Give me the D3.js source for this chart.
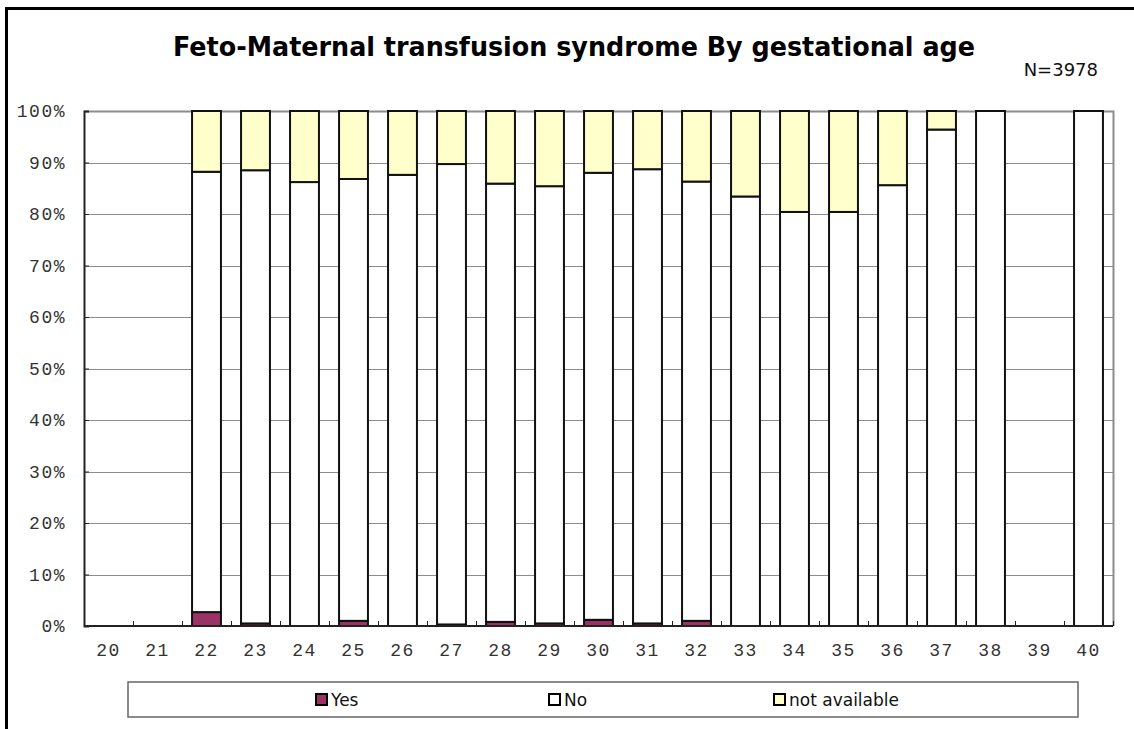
<!DOCTYPE html>
<html>
<head>
<meta charset="utf-8">
<script src="https://cdn.jsdelivr.net/npm/d3@7"></script>
<style>
  body { margin: 0; background: #fff; overflow: hidden; }
  svg { display: block; overflow: hidden; }
  .yLabels, .xLabels { font-family: "Liberation Mono", "Courier New", monospace; fill: #333; }
  .chartTitle { font-family: "DejaVu Sans", Tahoma, sans-serif; font-weight: bold; }
  .nKey, .legendText { font-family: "DejaVu Sans", Tahoma, sans-serif; fill: #111; }
</style>
</head>
<body>
<div id="fmt-chart"></div>
<script>

/* chart data */
var ages = ["20","21","22","23","24","25","26","27","28","29","30",
            "31","32","33","34","35","36","37","38","39","40"]
var yesPct = [0, 0, 2.7, 0.5, 0, 1.0, 0, 0.3, 0.8, 0.5, 1.2,
              0.5, 1.0, 0, 0, 0, 0, 0, 0, 0, 0]
var noPct  = [0, 0, 85.5, 88.0, 86.2, 85.8, 87.6, 89.4, 85.1, 84.9, 86.8,
              88.2, 85.3, 83.4, 80.4, 80.4, 85.6, 96.4, 100, 0, 100]
var naPct  = [0, 0, 11.8, 11.5, 13.8, 13.2, 12.4, 10.3, 14.1, 14.6, 12.0,
              11.3, 13.7, 16.6, 19.6, 19.6, 14.4, 3.6, 0, 0, 0]
var seriesNames = ["Yes", "No", "not available"]
var yTicks = [0, 10, 20, 30, 40, 50, 60, 70, 80, 90, 100]
var titleText = "Feto-Maternal transfusion syndrome By gestational age"
var nText = "N=3978"

/* colors per series, excel-ish */
var seriesColors = {
  "Yes": "#993366",
  "No": "#FFFFFF",
  "not available": "#FFFFCC"
}

var layout = {
  width: 1134,
  height: 729,
  plotLeft: 84,
  plotRight: 1113,
  plotTop: 111,
  plotBottom: 626,
  barPad: 0.41,
  tickLen: 5,
  yLabelX: 66,
  xLabelY: 656,
  legendX: 128,
  legendY: 682,
  legendW: 950,
  legendH: 35,
  legendItemX: [187, 420, 645], // marker x inside legend box
  titleX: 173,
  titleY: 56,
  titleLen: 802,
}

var rows = ages.map(function(a, i) {
  return { age: a, "Yes": yesPct[i], "No": noPct[i], "not available": naPct[i] }
})

var x = d3.scaleBand()
  .domain(ages)
  .range([layout.plotLeft, layout.plotRight])
  .paddingInner(layout.barPad)
  .paddingOuter(layout.barPad / 2)

var y = d3.scaleLinear()
  .domain([0, 100])
  .range([layout.plotBottom, layout.plotTop])

var stacked = d3.stack().keys(seriesNames)(rows)

var svg = d3.select("#fmt-chart")
  .append("svg")
  .attr("width", layout.width)
  .attr("height", layout.height)

/* outer frame: only left + top show, the rest runs off the page */
svg.append("path")
  .attr("d", "M6.5," + layout.height + "V8.5H" + layout.width)
  .style("fill", "none")
  .style("stroke", "#000")
  .style("stroke-width", 3)

svg.append("text")
  .attr("class", "chartTitle")
  .text(titleText)
  .attr("x", layout.titleX)
  .attr("y", layout.titleY)
  .attr("textLength", layout.titleLen)
  .attr("lengthAdjust", "spacingAndGlyphs")
  .style("font-size", "26px")
  .style("fill", "#000")

svg.append("text")
  .attr("class", "nKey")
  .text(nText)
  .attr("x", 1098)
  .attr("y", 76)
  .attr("text-anchor", "end")
  .style("font-size", "18px")

/* gridlines */
svg.selectAll(".grid").data(yTicks.filter(function(t) { return t > 0 && t < 100 })).enter()
  .append("line")
  .attr("class", "grid")
  .attr("x1", layout.plotLeft)
  .attr("x2", layout.plotRight)
  .attr("y1", function(d) { return Math.round(y(d)) + 0.5 })
  .attr("y2", function(d) { return Math.round(y(d)) + 0.5 })
  .style("stroke", "#8c8c8c")
  .style("stroke-width", 1)

/* plot area border top + right (grey) */
svg.append("path")
  .attr("d", "M" + layout.plotLeft + "," + (layout.plotTop + 0.5) +
             "H" + (layout.plotRight + 0.5) + "V" + layout.plotBottom)
  .style("fill", "none")
  .style("stroke", "#8c8c8c")
  .style("stroke-width", 2)

/* stacked bars */
var groups = svg.selectAll(".series").data(stacked).enter()
  .append("g")
  .attr("class", "series")
  .style("fill", function(d) { return seriesColors[d.key] })

groups.selectAll("rect")
  .data(function(d) { return d.filter(function(s) { return s[1] - s[0] > 0 }) })
  .enter()
  .append("rect")
  .attr("x", function(d) { return x(d.data.age) })
  .attr("width", x.bandwidth())
  .attr("y", function(d) { return y(d[1]) })
  .attr("height", function(d) { return y(d[0]) - y(d[1]) })
  .style("stroke", "#111")
  .style("stroke-width", 2)

/* axes, ticks point inward like excel */
var yAxis = d3.axisRight(y).tickValues(yTicks).tickSize(layout.tickLen).tickFormat("")
svg.append("g")
  .attr("transform", "translate(" + layout.plotLeft + ",0)")
  .call(yAxis)
  .call(function(g) {
    g.select(".domain").style("stroke", "#222").style("stroke-width", 2)
    g.selectAll(".tick line").style("stroke", "#222")
  })

var xEdges = d3.range(ages.length + 1).map(function(i) {
  return layout.plotLeft + i * x.step()
})
svg.selectAll(".xTick").data(xEdges).enter()
  .append("line")
  .attr("class", "xTick")
  .attr("x1", function(d) { return Math.round(d) + 0.5 })
  .attr("x2", function(d) { return Math.round(d) + 0.5 })
  .attr("y1", layout.plotBottom)
  .attr("y2", layout.plotBottom - layout.tickLen)
  .style("stroke", "#222")

svg.append("line")
  .attr("x1", layout.plotLeft)
  .attr("x2", layout.plotRight)
  .attr("y1", layout.plotBottom)
  .attr("y2", layout.plotBottom)
  .style("stroke", "#222")
  .style("stroke-width", 2)

svg.selectAll(".yLabels").data(yTicks).enter()
  .append("text")
  .attr("class", "yLabels")
  .text(function(d) { return d + "%" })
  .attr("x", layout.yLabelX)
  .attr("y", function(d) { return y(d) })
  .attr("dy", "0.35em")
  .attr("text-anchor", "end")
  .style("font-size", "18px")
  .style("letter-spacing", "1.5px")

svg.selectAll(".xLabels").data(ages).enter()
  .append("text")
  .attr("class", "xLabels")
  .text(function(d) { return d })
  .attr("x", function(d) { return x(d) + x.bandwidth() / 2 })
  .attr("y", layout.xLabelY)
  .attr("text-anchor", "middle")
  .style("font-size", "18px")
  .style("letter-spacing", "1.5px")

/* legend */
var legend = svg.append("g")
  .attr("transform", "translate(" + layout.legendX + "," + layout.legendY + ")")

legend.append("rect")
  .attr("width", layout.legendW)
  .attr("height", layout.legendH)
  .style("fill", "#fff")
  .style("stroke", "#666")
  .style("stroke-width", 1.5)

var items = legend.selectAll(".legendItem").data(seriesNames).enter()
  .append("g")
  .attr("class", "legendItem")
  .attr("transform", function(d, i) { return "translate(" + layout.legendItemX[i] + ",0)" })

items.append("rect")
  .attr("x", 1)
  .attr("y", 12)
  .attr("width", 11)
  .attr("height", 11)
  .style("fill", function(d) { return seriesColors[d] })
  .style("stroke", "#000")
  .style("stroke-width", 2)

items.append("text")
  .attr("class", "legendText")
  .text(function(d) { return d })
  .attr("x", 16)
  .attr("y", 24)
  .style("font-size", "17px")

</script>
</body>
</html>
